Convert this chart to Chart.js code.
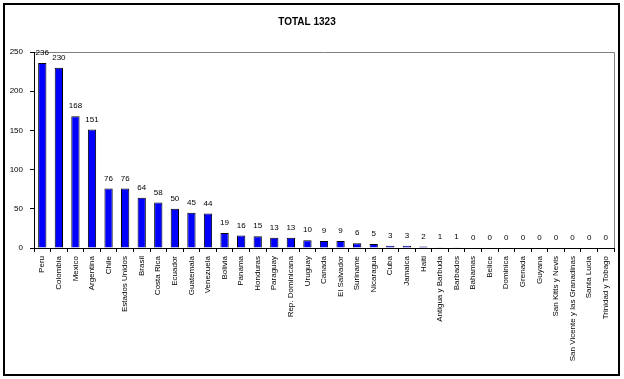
<!DOCTYPE html>
<html>
<head>
<meta charset="utf-8">
<script src="https://cdn.jsdelivr.net/npm/chart.js@4.4.0/dist/chart.umd.min.js"></script>
<style>
html,body{margin:0;padding:0;background:#fff;}
#wrap{width:624px;height:379px;position:relative;}
</style>
</head>
<body>
<div id="wrap"><canvas id="c" width="624" height="379"></canvas></div>
<script>
const categories = ["Peru","Colombia","Mexico","Argentina","Chile","Estados Unidos","Brasil","Costa Rica","Ecuador","Guatemala","Venezuela","Bolivia","Panama","Honduras","Paraguay","Rep. Dominicana","Uruguay","Canada","El Salvador","Suriname","Nicaragua","Cuba","Jamaica","Haiti","Antigua y Barbuda","Barbados","Bahamas","Belice","Dominica","Grenada","Guyana","San Kitts y Nevis","San Vicente y las Granadinas","Santa Lucia","Trinidad y Tobago"];
const values = [236,230,168,151,76,76,64,58,50,45,44,19,16,15,13,13,10,9,9,6,5,3,3,2,1,1,0,0,0,0,0,0,0,0,0];
const yTicks = [0,50,100,150,200,250];
const titleText = "TOTAL 1323";

const FONT = "'Liberation Sans', Arial, sans-serif";

const frame = {
  id: 'frame',
  beforeDraw(chart) {
    const ctx = chart.ctx, a = chart.chartArea;
    ctx.save();
    ctx.fillStyle = '#fff';
    ctx.fillRect(0, 0, chart.width, chart.height);
    ctx.strokeStyle = '#000';
    ctx.lineWidth = 2;
    ctx.strokeRect(4, 4, 615, 371);
    ctx.strokeStyle = '#808080';
    ctx.lineWidth = 1;
    ctx.beginPath();
    ctx.moveTo(Math.round(a.left) + 0.5, Math.round(a.top) + 0.5);
    ctx.lineTo(Math.round(a.right) + 0.5, Math.round(a.top) + 0.5);
    ctx.lineTo(Math.round(a.right) + 0.5, Math.round(a.bottom) + 0.5);
    ctx.stroke();
    ctx.restore();
  }
};

const valueLabels = {
  id: 'valueLabels',
  afterDatasetsDraw(chart) {
    const ctx = chart.ctx;
    const meta = chart.getDatasetMeta(0);
    ctx.save();
    ctx.font = "8px " + FONT;
    ctx.fillStyle = '#000';
    ctx.textAlign = 'center';
    ctx.textBaseline = 'middle';
    meta.data.forEach((bar, i) => {
      ctx.fillText(String(values[i]), bar.x, bar.y - 10);
    });
    ctx.restore();
  }
};

new Chart(document.getElementById('c'), {
  type: 'bar',
  data: {
    labels: categories,
    datasets: [{
      data: values,
      backgroundColor: '#0000FF',
      borderColor: '#000',
      borderWidth: 1,
      barPercentage: 0.5,
      categoryPercentage: 1.0
    }]
  },
  options: {
    responsive: false,
    animation: false,
    devicePixelRatio: 1,
    layout: { padding: { left: 0, right: 10, top: 0, bottom: 0 } },
    plugins: {
      legend: { display: false },
      tooltip: { enabled: false },
      title: {
        display: true,
        text: titleText,
        color: '#000',
        font: { family: FONT, size: 10, weight: 'bold', lineHeight: 1.2 },
        padding: { top: 16, bottom: 24 }
      }
    },
    scales: {
      x: {
        offset: true,
        grid: { drawOnChartArea: false, drawTicks: true, tickLength: 4, color: '#000', offset: true },
        border: { color: '#000', width: 1 },
        ticks: {
          autoSkip: false,
          maxRotation: 90,
          minRotation: 90,
          padding: 4,
          color: '#000',
          font: { family: FONT, size: 8 }
        },
        afterFit(s) { s.height = 131; }
      },
      y: {
        min: 0,
        max: 250,
        afterBuildTicks(s) { s.ticks = yTicks.map(v => ({ value: v })); },
        grid: { drawOnChartArea: false, drawTicks: true, tickLength: 4, color: '#000' },
        border: { color: '#000', width: 1 },
        ticks: {
          padding: 7,
          color: '#000',
          font: { family: FONT, size: 8 }
        },
        afterFit(s) { s.width = 34; }
      }
    }
  },
  plugins: [frame, valueLabels]
});
</script>
</body>
</html>
